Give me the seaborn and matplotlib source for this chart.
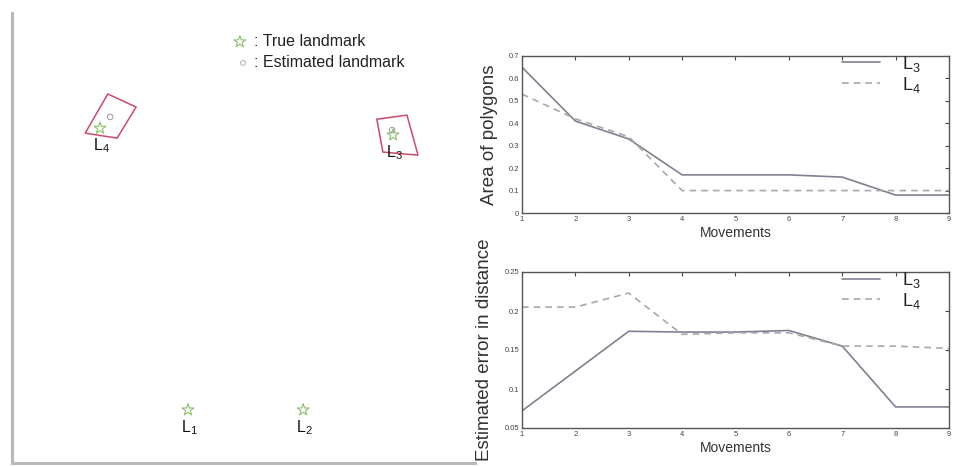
import numpy as np
import pandas as pd
import matplotlib
matplotlib.use("Agg")
import matplotlib.pyplot as plt
from matplotlib.patches import Polygon
import seaborn as sns

# ---------------- data ----------------
movements = [1, 2, 3, 4, 5, 6, 7, 8, 9]
area_L3 = [0.65, 0.41, 0.33, 0.17, 0.17, 0.17, 0.16, 0.08, 0.08]
area_L4 = [0.53, 0.42, 0.34, 0.10, 0.10, 0.10, 0.10, 0.10, 0.10]
err_L3 = [0.072, 0.123, 0.174, 0.173, 0.173, 0.175, 0.155, 0.077, 0.077]
err_L4 = [0.205, 0.205, 0.223, 0.170, 0.172, 0.172, 0.155, 0.155, 0.152]

landmark_names = ["1", "2", "3", "4"]
true_x = [3.80, 6.29, 8.23, 1.90]
true_y = [1.18, 1.18, 7.29, 7.44]
est_x = [3.80, 6.29, 8.21, 2.12]
est_y = [1.18, 1.18, 7.40, 7.69]
poly_L3 = [(7.88, 7.64), (8.53, 7.73), (8.77, 6.84), (8.01, 6.91)]
poly_L4 = [(2.07, 8.20), (2.68, 7.91), (2.27, 7.22), (1.58, 7.33)]

area_yticks = [0, 0.1, 0.2, 0.3, 0.4, 0.5, 0.6, 0.7]
err_yticks = [0.05, 0.1, 0.15, 0.2, 0.25]

# ---------------- style ----------------
sns.set_style("white")
plt.rcParams["font.family"] = ["Liberation Sans", "DejaVu Sans"]
plt.rcParams["mathtext.fontset"] = "custom"
plt.rcParams["mathtext.rm"] = "Liberation Sans"

fig = plt.figure(figsize=(9.54, 4.67), dpi=100)
W, H = 954, 467

def box(x0, y0, x1, y1):
    return [x0 / W, 1 - y1 / H, (x1 - x0) / W, (y1 - y0) / H]

# ---------------- left map ----------------
axm = fig.add_axes(box(12, 13, 475, 463))
axm.set_xlim(0, 10)
axm.set_ylim(0, 10)
axm.set_xticks([])
axm.set_yticks([])
for s in ["top", "right"]:
    axm.spines[s].set_visible(False)
for s in ["left", "bottom"]:
    axm.spines[s].set_color("#b9b9b9")
    axm.spines[s].set_linewidth(2.2)

for pts in (poly_L3, poly_L4):
    axm.add_patch(Polygon(pts, closed=True, fill=False, edgecolor="#cc4a6a", lw=1.1))

map_df = pd.DataFrame({"tx": true_x, "ty": true_y, "ex": est_x, "ey": est_y})
sns.scatterplot(data=map_df, x="tx", y="ty", ax=axm, marker="*", s=80,
                facecolor="none", edgecolor="#8cc06a", linewidth=0.8, legend=False)
sns.scatterplot(data=map_df.iloc[2:], x="ex", y="ey", ax=axm, marker="o", s=16,
                facecolor="none", edgecolor="#9a9aa0", linewidth=0.7, legend=False)
axm.set_xlabel("")
axm.set_ylabel("")

for name, x, y in zip(landmark_names, true_x, true_y):
    axm.text(x - 0.15, y - 0.18, r"$\mathregular{L_{%s}}$" % name, fontsize=11.5,
             ha="left", va="top", color="#111111")

# map legend
axm.scatter([4.92], [9.36], marker="*", s=80, facecolor="none", edgecolor="#8cc06a", linewidth=0.8)
axm.scatter([4.99], [8.89], marker="o", s=12, facecolor="none", edgecolor="#b0b0b0", linewidth=0.7)
axm.text(5.22, 9.36, ": True landmark", fontsize=11.5, va="center", color="#222222")
axm.text(5.22, 8.89, ": Estimated landmark", fontsize=11.5, va="center", color="#222222")

# ---------------- right plots ----------------
def style_axes(ax, yticks, ylim, ylabel):
    ax.set_xlim(1, 9)
    ax.set_ylim(*ylim)
    ax.set_xticks(movements)
    ax.set_yticks(yticks)
    ax.set_yticklabels([("%g" % t) for t in yticks])
    ax.tick_params(direction="in", length=3, labelsize=5.5, top=True, right=True,
                   colors="#444444", pad=2)
    for s in ax.spines.values():
        s.set_color("#555555")
        s.set_linewidth(1.0)
    ax.set_xlabel("Movements", fontsize=10, labelpad=2, color="#333333")
    ax.set_ylabel(ylabel, fontsize=13.5, labelpad=8, color="#333333")

solid_c = "#7d8290"
dash_c = "#a8a8a8"

ax1 = fig.add_axes(box(522, 56, 949, 213))
df1 = pd.DataFrame({"Movements": movements * 2,
                    "value": area_L3 + area_L4,
                    "series": [r"$\mathregular{L_3}$"] * 9 + [r"$\mathregular{L_4}$"] * 9})
sns.lineplot(data=df1, x="Movements", y="value", hue="series", style="series",
             palette=[solid_c, dash_c], dashes=[(None, None), (4, 3)],
             linewidth=1.2, ax=ax1)
style_axes(ax1, area_yticks, (0, 0.7), "Area of polygons")

ax2 = fig.add_axes(box(522, 272, 949, 428))
df2 = pd.DataFrame({"Movements": movements * 2,
                    "value": err_L3 + err_L4,
                    "series": [r"$\mathregular{L_3}$"] * 9 + [r"$\mathregular{L_4}$"] * 9})
sns.lineplot(data=df2, x="Movements", y="value", hue="series", style="series",
             palette=[solid_c, dash_c], dashes=[(None, None), (4, 3)],
             linewidth=1.2, ax=ax2)
style_axes(ax2, err_yticks, (0.05, 0.25), "Estimated error in distance")

for ax in (ax1, ax2):
    leg = ax.legend(loc="upper right", bbox_to_anchor=(0.95, 1.06), fontsize=13,
                    frameon=False, handlelength=2.1, handletextpad=1.2,
                    labelspacing=0.05, borderaxespad=0.0, title=None)
    for t in leg.get_texts():
        t.set_color("#222222")

fig.savefig("out.png", dpi=100)
